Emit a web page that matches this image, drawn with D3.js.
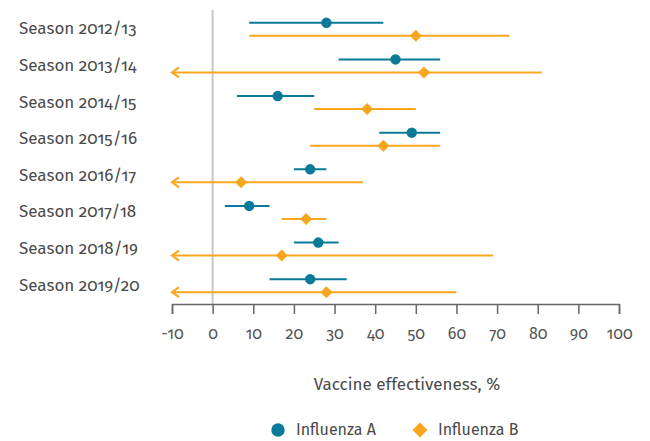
<!DOCTYPE html>
<html lang="en">
<head>
    <meta charset="UTF-8">
    <script src="https://d3js.org/d3.v7.min.js"></script>
    <style>
        body {
            margin: 0;
            background: #ffffff;
        }

        text {
            font-family: "Fira Sans", "Open Sans", sans-serif;
            font-variant-numeric: oldstyle-nums;
            fill: #4a4a4a;
        }

        .zero {
            stroke: #c8c8c8;
            stroke-width: 2px;
        }

        .axis path, .axis line {
            stroke: #666;
            stroke-width: 1.5px;
        }
    </style>
</head>
<body>
<script>
    const width = 650;
    const height = 441;

    const seasons = ['Season 2012/13', 'Season 2013/14', 'Season 2014/15', 'Season 2015/16',
        'Season 2016/17', 'Season 2017/18', 'Season 2018/19', 'Season 2019/20'];

    // Influenza A: point estimate and 95% CI
    const fluA = [28, 45, 16, 49, 24, 9, 26, 24];
    const fluALow = [9, 31, 6, 41, 20, 3, 20, 14];
    const fluAHigh = [42, 56, 25, 56, 28, 14, 31, 33];

    // Influenza B (null = lower bound runs off the axis)
    const fluB = [50, 52, 38, 42, 7, 23, 17, 28];
    const fluBLow = [9, null, 25, 24, null, 17, null, null];
    const fluBHigh = [73, 81, 50, 56, 37, 28, 69, 60];

    const xTicks = [-10, 0, 10, 20, 30, 40, 50, 60, 70, 80, 90, 100];

    const diamond = {
        draw(ctx, size) {
            const r = Math.sqrt(size / 2);
            ctx.moveTo(0, -r);
            ctx.lineTo(r, 0);
            ctx.lineTo(0, r);
            ctx.lineTo(-r, 0);
            ctx.closePath();
        }
    };

    const series = [
        {name: 'Influenza A', est: fluA, low: fluALow, high: fluAHigh, color: '#0b7a99', shape: d3.symbolCircle, size: 85, legSize: 140, dy: -6.5},
        {name: 'Influenza B', est: fluB, low: fluBLow, high: fluBHigh, color: '#f9a61e', shape: diamond, size: 72, legSize: 110, dy: 6.5}
    ];

    const x = d3.scaleLinear().domain([-10, 100]).range([172, 619]);
    const y = d3.scaleBand().domain(seasons).range([11, 304]);

    const svg = d3.select('body').append('svg')
        .attr('width', width)
        .attr('height', height);

    // season labels
    svg.selectAll('.season')
        .data(seasons)
        .enter().append('text')
        .attr('class', 'season')
        .attr('x', 19)
        .attr('y', d => y(d) + y.bandwidth() / 2 + 5)
        .style('font-size', '17px')
        .text(d => d);

    svg.append('line')
        .attr('class', 'zero')
        .attr('x1', x(0)).attr('x2', x(0))
        .attr('y1', 10).attr('y2', 304);

    const axis = svg.append('g')
        .attr('class', 'axis')
        .attr('transform', 'translate(0,304)')
        .call(d3.axisBottom(x).tickValues(xTicks).tickFormat(d => String(d))
            .tickSize(10).tickSizeOuter(10).tickPadding(14));
    axis.selectAll('text')
        .style('font-size', '16px')
        .style('fill', '#555');

    svg.append('text')
        .attr('x', 407)
        .attr('y', 390)
        .attr('text-anchor', 'middle')
        .style('font-size', '17px')
        .text('Vaccine effectiveness, %');

    series.forEach(s => {
        const g = svg.append('g');
        const rows = seasons.map((d, i) => ({season: d, est: s.est[i], low: s.low[i], high: s.high[i]}));
        const cy = d => y(d.season) + y.bandwidth() / 2 + s.dy;

        g.selectAll('line')
            .data(rows)
            .enter().append('line')
            .attr('x1', d => d.low === null ? x(-10) : x(d.low))
            .attr('x2', d => x(d.high))
            .attr('y1', cy).attr('y2', cy)
            .attr('stroke', s.color)
            .attr('stroke-width', 2);

        // arrow heads for open-ended intervals
        g.selectAll('.arrow')
            .data(rows.filter(d => d.low === null))
            .enter().append('path')
            .attr('class', 'arrow')
            .attr('d', d => `M${x(-10) + 7},${cy(d) - 5}L${x(-10)},${cy(d)}L${x(-10) + 7},${cy(d) + 5}`)
            .attr('fill', 'none')
            .attr('stroke', s.color)
            .attr('stroke-width', 2);

        g.selectAll('.mark')
            .data(rows)
            .enter().append('path')
            .attr('class', 'mark')
            .attr('transform', d => `translate(${x(d.est)},${cy(d)})`)
            .attr('d', d3.symbol().type(s.shape).size(s.size))
            .attr('fill', s.color);
    });

    // legend
    const legend = svg.append('g');
    const legendX = [278, 420];
    series.forEach((s, i) => {
        legend.append('path')
            .attr('transform', `translate(${legendX[i]},430)`)
            .attr('d', d3.symbol().type(s.shape).size(s.legSize))
            .attr('fill', s.color);
        legend.append('text')
            .attr('x', legendX[i] + 18)
            .attr('y', 435)
            .style('font-size', '16px')
            .text(s.name);
    });
</script>
</body>
</html>
